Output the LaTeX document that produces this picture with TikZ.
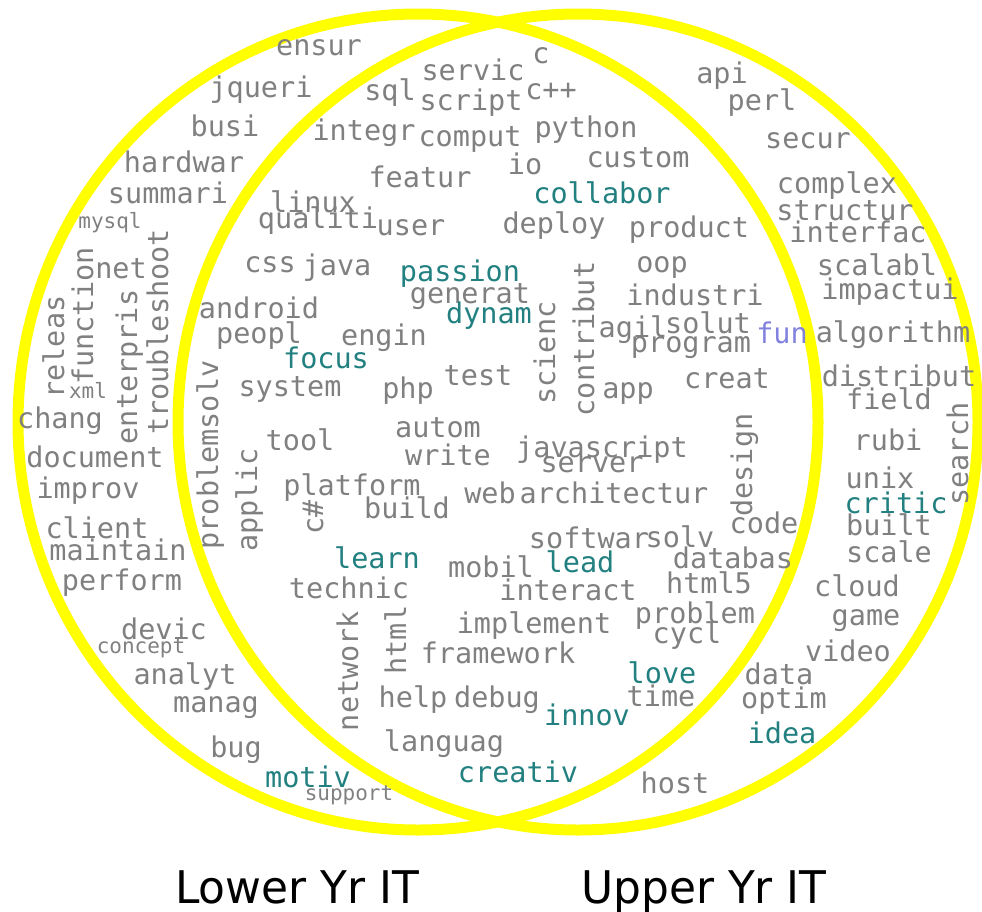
\documentclass[tikz,border=0pt]{standalone}
\usepackage{fontspec}
\newfontfamily\wordfont{DejaVu Sans Mono}
\newfontfamily\labelfont{DejaVu Sans}
\definecolor{wgray}{RGB}{128,128,128}
\definecolor{wteal}{RGB}{34,128,128}
\definecolor{wviolet}{RGB}{130,130,222}
\definecolor{ring}{RGB}{255,255,0}
\tikzset{
  wrd/.style={font={\wordfont\fontsize{28.5}{30}\selectfont}, text=wgray, inner sep=0pt, anchor=base},
  tl/.style={wrd, text=wteal},
  vl/.style={wrd, text=wviolet},
  sm/.style={wrd, font={\wordfont\fontsize{21}{22}\selectfont}},
  vert/.style={rotate=90},
  setlabel/.style={font={\labelfont\fontsize{45}{48}\selectfont}, text=black, inner sep=0pt, anchor=base, xscale=0.975},
  ringline/.style={draw=ring, line width=11pt}
}
\begin{document}
\begin{tikzpicture}[x=1pt,y=-1pt]
\useasboundingbox (0,0) rectangle (982,911);
% the two sets
\draw[ringline] (418,422) ellipse [x radius=400, y radius=408];
\draw[ringline] (578,422) ellipse [x radius=400, y radius=408];

% lower years only
\node[wrd] (w-ensur) at (319,55) {ensur};
\node[wrd] (w-jqueri) at (261,97) {jqueri};
\node[wrd] (w-busi) at (225,136) {busi};
\node[wrd] (w-hardwar) at (184,172) {hardwar};
\node[wrd] (w-summari) at (168,203) {summari};
\node[sm] (w-mysql) at (110,228) {mysql};
\node[wrd] (w-net) at (121,278) {net};
\node[wrd,vert] (w-releas) at (64,347) {releas};
\node[wrd,vert] (w-function) at (93,316) {function};
\node[sm] (w-xml) at (88,398) {xml};
\node[wrd,vert] (w-enterpris) at (137,367) {enterpris};
\node[wrd,vert] (w-troubleshoot) at (168,332) {troubleshoot};
\node[wrd] (w-chang) at (60,428) {chang};
\node[wrd] (w-document) at (95,467) {document};
\node[wrd] (w-improv) at (88,498) {improv};
\node[wrd] (w-client) at (97,538) {client};
\node[wrd] (w-maintain) at (118,560) {maintain};
\node[wrd] (w-perform) at (122,590) {perform};
\node[wrd] (w-devic) at (164,639) {devic};
\node[sm] (w-concept) at (141,653) {concept};
\node[wrd] (w-analyt) at (185,684) {analyt};
\node[wrd] (w-manag) at (216,712) {manag};
\node[wrd] (w-bug) at (236,757) {bug};
\node[tl] (w-motiv) at (308,787) {motiv};
\node[sm] (w-support) at (349,800) {support};

% shared
\node[wrd] (w-servic) at (473,80) {servic};
\node[wrd] (w-c) at (541,63) {c};
\node[wrd] (w-sql) at (390,100) {sql};
\node[wrd] (w-script) at (471,110) {script};
\node[wrd] (w-cpp) at (551,99) {c++};
\node[wrd] (w-integr) at (364,140) {integr};
\node[wrd] (w-comput) at (470,146) {comput};
\node[wrd] (w-python) at (586,137) {python};
\node[wrd] (w-io) at (525,174) {io};
\node[wrd] (w-custom) at (638,167) {custom};
\node[wrd] (w-featur) at (420,187) {featur};
\node[tl] (w-collabor) at (602,203) {collabor};
\node[wrd] (w-linux) at (313,212) {linux};
\node[wrd] (w-qualiti) at (318,228) {qualiti};
\node[wrd] (w-user) at (411,235) {user};
\node[wrd] (w-deploy) at (554,233) {deploy};
\node[wrd] (w-product) at (689,237) {product};
\node[wrd] (w-css) at (270,272) {css};
\node[wrd] (w-java) at (337,275) {java};
\node[tl] (w-passion) at (460,281) {passion};
\node[wrd] (w-oop) at (662,272) {oop};
\node[wrd] (w-generat) at (470,303) {generat};
\node[wrd] (w-industri) at (695,305) {industri};
\node[wrd] (w-android) at (259,318) {android};
\node[tl] (w-dynam) at (489,323) {dynam};
\node[wrd] (w-agil) at (633,337) {agil};
\node[wrd] (w-solut) at (708,333) {solut};
\node[vl] (w-fun) at (782,343) {fun};
\node[wrd] (w-peopl) at (259,343) {peopl};
\node[wrd] (w-engin) at (384,345) {engin};
\node[wrd] (w-program) at (691,352) {program};
\node[tl] (w-focus) at (326,368) {focus};
\node[wrd,vert] (w-scienc) at (555,353) {scienc};
\node[wrd,vert] (w-contribut) at (594,339) {contribut};
\node[wrd] (w-system) at (290,396) {system};
\node[wrd] (w-php) at (408,398) {php};
\node[wrd] (w-test) at (478,385) {test};
\node[wrd] (w-app) at (628,398) {app};
\node[wrd] (w-creat) at (727,388) {creat};
\node[wrd,vert] (w-problemsolv) at (218,455) {problemsolv};
\node[wrd] (w-tool) at (300,450) {tool};
\node[wrd] (w-autom) at (438,437) {autom};
\node[wrd] (w-javascript) at (602,457) {javascript};
\node[wrd,vert] (w-design) at (752,465) {design};
\node[wrd] (w-write) at (448,465) {write};
\node[wrd] (w-server) at (592,472) {server};
\node[wrd,vert] (w-applic) at (257,500) {applic};
\node[wrd] (w-platform) at (352,495) {platform};
\node[wrd] (w-web) at (490,503) {web};
\node[wrd] (w-architectur) at (614,503) {architectur};
\node[wrd,vert] (w-csharp) at (323,517) {c\#};
\node[wrd] (w-build) at (407,518) {build};
\node[wrd] (w-code) at (764,533) {code};
\node[wrd] (w-softwar) at (589,548) {softwar};
\node[wrd] (w-solv) at (680,547) {solv};
\node[tl] (w-learn) at (377,568) {learn};
\node[tl] (w-lead) at (580,572) {lead};
\node[wrd] (w-databas) at (733,568) {databas};
\node[wrd] (w-mobil) at (491,577) {mobil};
\node[wrd] (w-technic) at (349,598) {technic};
\node[wrd] (w-interact) at (568,600) {interact};
\node[wrd] (w-html5) at (709,593) {html5};
\node[wrd] (w-problem) at (695,623) {problem};
\node[wrd] (w-cycl) at (687,643) {cycl};
\node[wrd,vert] (w-network) at (358,671) {network};
\node[wrd,vert] (w-html) at (406,640) {html};
\node[wrd] (w-implement) at (534,633) {implement};
\node[wrd] (w-framework) at (498,663) {framework};
\node[tl] (w-love) at (662,683) {love};
\node[wrd] (w-time) at (661,706) {time};
\node[wrd] (w-help) at (413,707) {help};
\node[wrd] (w-debug) at (497,707) {debug};
\node[tl] (w-innov) at (587,725) {innov};
\node[wrd] (w-languag) at (444,751) {languag};
\node[tl] (w-creativ) at (518,782) {creativ};

% upper years only
\node[wrd] (w-data) at (779,684) {data};
\node[wrd] (w-optim) at (784,708) {optim};
\node[tl] (w-idea) at (782,743) {idea};
\node[wrd] (w-host) at (675,793) {host};
\node[wrd] (w-api) at (722,83) {api};
\node[wrd] (w-perl) at (762,110) {perl};
\node[wrd] (w-secur) at (808,148) {secur};
\node[wrd] (w-complex) at (837,193) {complex};
\node[wrd] (w-structur) at (845,220) {structur};
\node[wrd] (w-interfac) at (858,242) {interfac};
\node[wrd] (w-scalabl) at (877,275) {scalabl};
\node[wrd] (w-impactui) at (890,299) {impactui};
\node[wrd] (w-algorithm) at (893,342) {algorithm};
\node[wrd] (w-distribut) at (899,386) {distribut};
\node[wrd] (w-field) at (889,409) {field};
\node[wrd,vert] (w-search) at (968,454) {search};
\node[wrd] (w-rubi) at (888,450) {rubi};
\node[wrd] (w-unix) at (880,488) {unix};
\node[tl] (w-critic) at (896,513) {critic};
\node[wrd] (w-built) at (889,535) {built};
\node[wrd] (w-scale) at (889,562) {scale};
\node[wrd] (w-cloud) at (857,596) {cloud};
\node[wrd] (w-game) at (866,625) {game};
\node[wrd] (w-video) at (848,661) {video};

% set labels
\node[setlabel] (lower) at (297,903) {Lower Yr IT};
\node[setlabel] (upper) at (704,903) {Upper Yr IT};
\end{tikzpicture}
\end{document}
